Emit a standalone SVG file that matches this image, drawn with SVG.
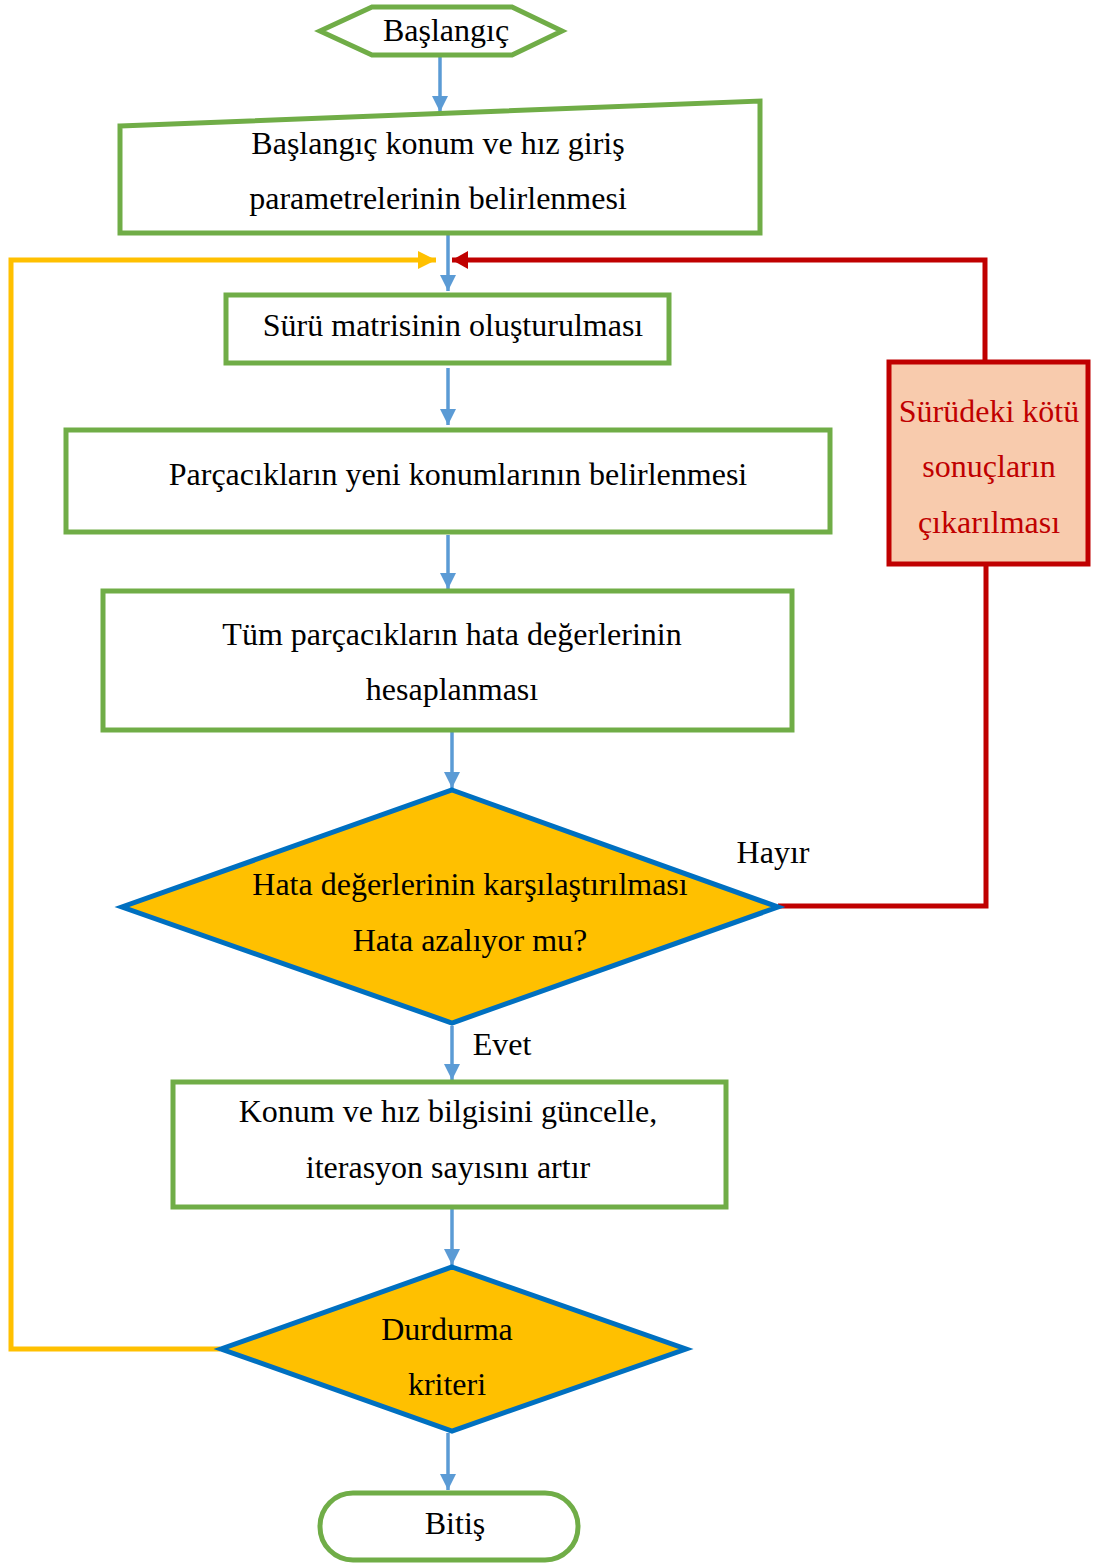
<svg xmlns="http://www.w3.org/2000/svg" width="1099" height="1564" viewBox="0 0 1099 1564">
  <style>
    .box { fill: #ffffff; stroke: #70AD47; stroke-width: 5; }
    .dec { fill: #FFC000; stroke: #0070C0; stroke-width: 5; stroke-linejoin: miter; }
    .bad { fill: #F8CBAD; stroke: #C00000; stroke-width: 5; }
    .t { font-family: "Liberation Serif", "Times New Roman", serif; font-size: 32px; fill: #000000; text-anchor: middle; dominant-baseline: central; }
    .tr { fill: #C00000; }
    .flow { fill: none; stroke: #5B9BD5; stroke-width: 3.5; }
    .no { fill: none; stroke: #C00000; stroke-width: 5; }
    .loop { fill: none; stroke: #FFC000; stroke-width: 5; }
  </style>
  <defs>
    <marker id="ah-blue" markerUnits="userSpaceOnUse" markerWidth="16" markerHeight="16" viewBox="0 0 16 16" refX="16" refY="8" orient="auto">
      <path d="M0,0 L16,8 L0,16 Z" fill="#5B9BD5"/>
    </marker>
    <marker id="ah-red" markerUnits="userSpaceOnUse" markerWidth="16" markerHeight="18" viewBox="0 0 16 18" refX="16" refY="9" orient="auto">
      <path d="M0,0 L16,9 L0,18 Z" fill="#C00000"/>
    </marker>
    <marker id="ah-yellow" markerUnits="userSpaceOnUse" markerWidth="18" markerHeight="18" viewBox="0 0 18 18" refX="18" refY="9" orient="auto">
      <path d="M0,0 L18,9 L0,18 Z" fill="#FFC000"/>
    </marker>
  </defs>

  <!-- connectors -->
  <g id="connectors">
    <path class="flow" d="M440,57 V112" marker-end="url(#ah-blue)"/>
    <path class="flow" d="M448,235 V291" marker-end="url(#ah-blue)"/>
    <path class="flow" d="M448,368 V425" marker-end="url(#ah-blue)"/>
    <path class="flow" d="M448,535 V589" marker-end="url(#ah-blue)"/>
    <path class="flow" d="M452,732 V788" marker-end="url(#ah-blue)"/>
    <path class="flow" d="M452,1026 V1080" marker-end="url(#ah-blue)"/>
    <path class="flow" d="M452,1209 V1265" marker-end="url(#ah-blue)"/>
    <path class="flow" d="M448,1433 V1490" marker-end="url(#ah-blue)"/>
    <!-- "Hayır" branch through the removal step back to the swarm -->
    <path class="no" d="M778,906 H986 V565"/>
    <path class="no" d="M985,361 V260 H452" marker-end="url(#ah-red)"/>
    <!-- stopping-criterion loop back -->
    <path class="loop" d="M220,1349 H11 V260 H436" marker-end="url(#ah-yellow)"/>
    <text class="t" x="773" y="852">Hayır</text>
    <text class="t" x="502" y="1044">Evet</text>
  </g>

  <g id="start">
    <polygon class="box" points="320,31 372,7 512,7 562,31 512,55 372,55"/>
    <text class="t" x="446" y="30">Başlangıç</text>
  </g>

  <g id="input">
    <polygon class="box" points="120,126 760,101 760,233 120,233"/>
    <text class="t" x="438" y="143">Başlangıç konum ve hız giriş</text>
    <text class="t" x="438" y="198">parametrelerinin belirlenmesi</text>
  </g>

  <g id="swarm">
    <rect class="box" x="226" y="295" width="443" height="68"/>
    <text class="t" x="453" y="325">Sürü matrisinin oluşturulması</text>
  </g>

  <g id="positions">
    <rect class="box" x="66" y="430" width="764" height="102"/>
    <text class="t" x="458" y="474">Parçacıkların yeni konumlarının belirlenmesi</text>
  </g>

  <g id="errors">
    <rect class="box" x="103" y="591" width="689" height="139"/>
    <text class="t" x="452" y="634">Tüm parçacıkların hata değerlerinin</text>
    <text class="t" x="452" y="689">hesaplanması</text>
  </g>

  <g id="compare">
    <polygon class="dec" points="452,790 778,907 452,1023 122,907"/>
    <text class="t" x="470" y="884">Hata değerlerinin karşılaştırılması</text>
    <text class="t" x="470" y="940">Hata azalıyor mu?</text>
  </g>

  <g id="remove">
    <rect class="bad" x="889" y="362" width="199" height="202"/>
    <text class="t tr" x="989" y="411">Sürüdeki kötü</text>
    <text class="t tr" x="989" y="466">sonuçların</text>
    <text class="t tr" x="989" y="522">çıkarılması</text>
  </g>

  <g id="update">
    <rect class="box" x="173" y="1082" width="553" height="125"/>
    <text class="t" x="448" y="1111">Konum ve hız bilgisini güncelle,</text>
    <text class="t" x="448" y="1167">iterasyon sayısını artır</text>
  </g>

  <g id="stop">
    <polygon class="dec" points="452,1267 686,1349 452,1431 221,1349"/>
    <text class="t" x="447" y="1329">Durdurma</text>
    <text class="t" x="447" y="1384">kriteri</text>
  </g>

  <g id="end">
    <rect class="box" x="320" y="1493" width="258" height="67" rx="33" ry="33"/>
    <text class="t" x="455" y="1523">Bitiş</text>
  </g>
</svg>
